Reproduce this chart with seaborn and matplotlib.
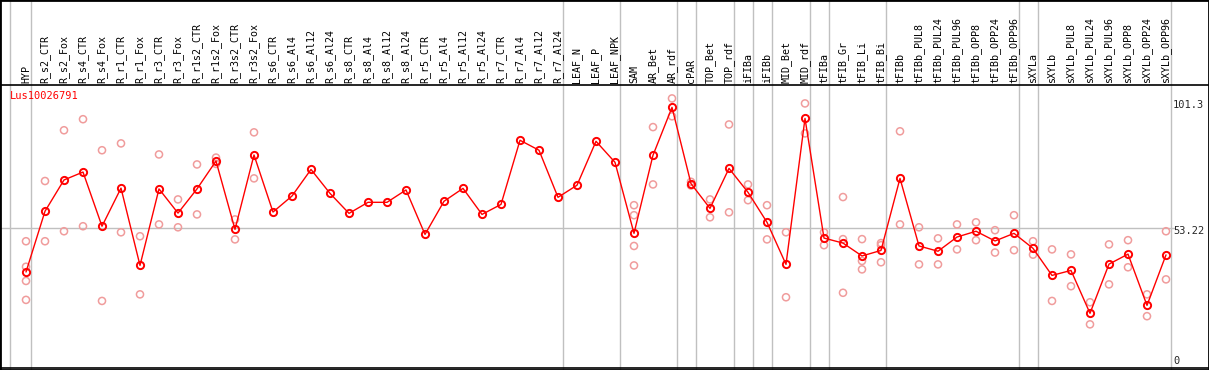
import numpy as np
import pandas as pd
import matplotlib
matplotlib.use("Agg")
import matplotlib.pyplot as plt
import seaborn as sns

# categories along the x axis
categories = ["HYP", "R_s2_CTR", "R_s2_Fox", "R_s4_CTR", "R_s4_Fox", "R_r1_CTR", "R_r1_Fox",
              "R_r3_CTR", "R_r3_Fox", "R_r1s2_CTR", "R_r1s2_Fox", "R_r3s2_CTR", "R_r3s2_Fox",
              "R_s6_CTR", "R_s6_Al4", "R_s6_Al12", "R_s6_Al24", "R_s8_CTR", "R_s8_Al4",
              "R_s8_Al12", "R_s8_Al24", "R_r5_CTR", "R_r5_Al4", "R_r5_Al12", "R_r5_Al24",
              "R_r7_CTR", "R_r7_Al4", "R_r7_Al12", "R_r7_Al24", "LEAF_N", "LEAF_P", "LEAF_NPK",
              "SAM", "AR_Bet", "AR_rdf", "cPAR", "TOP_Bet", "TOP_rdf", "iFIBa", "iFIBb",
              "MID_Bet", "MID_rdf", "tFIBa", "tFIB_Gr", "tFIB_Li", "tFIB_Bi", "tFIBb",
              "tFIBb_PUL8", "tFIBb_PUL24", "tFIBb_PUL96", "tFIBb_OPP8", "tFIBb_OPP24",
              "tFIBb_OPP96", "sXYLa", "sXYLb", "sXYLb_PUL8", "sXYLb_PUL24", "sXYLb_PUL96",
              "sXYLb_OPP8", "sXYLb_OPP24", "sXYLb_OPP96"]

# mean expression per category
mean_values = [36.5, 59.6, 71.5, 74.5, 53.9, 68.4, 39.0, 68.1, 58.9, 68.1, 78.7, 52.7, 81.0,
               59.3, 65.4, 75.5, 66.4, 58.8, 63.0, 63.0, 67.7, 50.8, 63.4, 68.3, 58.4,
               62.2, 86.6, 82.8, 64.9, 69.5, 86.2, 78.2,
               51.2, 80.9, 99.1, 70.1, 60.7, 75.9, 66.8, 55.4, 39.4, 94.9,
               49.4, 47.5, 42.6, 44.7, 72.1, 46.4, 44.4, 49.8, 52.0, 48.3, 51.2,
               45.5, 35.2, 37.1, 20.8, 39.5, 43.3, 23.8, 43.0]

# individual replicates
rep_labels = (["HYP"] * 4 + ["R_s2_CTR"] * 2 + ["R_s2_Fox"] * 2 + ["R_s4_CTR"] * 2
              + ["R_s4_Fox"] * 2 + ["R_r1_CTR"] * 2 + ["R_r1_Fox"] * 2 + ["R_r3_CTR"] * 2
              + ["R_r3_Fox"] * 2 + ["R_r1s2_CTR"] * 2 + ["R_r1s2_Fox"] * 2
              + ["R_r3s2_CTR"] * 2 + ["R_r3s2_Fox"] * 2
              + ["SAM"] * 4 + ["AR_Bet"] * 2 + ["AR_rdf"] * 2 + ["cPAR"] * 2
              + ["TOP_Bet"] * 2 + ["TOP_rdf"] * 2 + ["iFIBa"] * 2 + ["iFIBb"] * 2
              + ["MID_Bet"] * 2 + ["MID_rdf"] * 2 + ["tFIBa"] * 2 + ["tFIB_Gr"] * 3
              + ["tFIB_Li"] * 3 + ["tFIB_Bi"] * 3 + ["tFIBb"] * 2
              + ["tFIBb_PUL8"] * 2 + ["tFIBb_PUL24"] * 2 + ["tFIBb_PUL96"] * 2
              + ["tFIBb_OPP8"] * 2 + ["tFIBb_OPP24"] * 2 + ["tFIBb_OPP96"] * 2
              + ["sXYLa"] * 2 + ["sXYLb"] * 2 + ["sXYLb_PUL8"] * 2 + ["sXYLb_PUL24"] * 2
              + ["sXYLb_PUL96"] * 2 + ["sXYLb_OPP8"] * 2 + ["sXYLb_OPP24"] * 2
              + ["sXYLb_OPP96"] * 2)
rep_values = [48.2, 38.5, 33.1, 25.9, 71.1, 48.2, 90.4, 52.0, 94.6, 53.9,
              82.8, 25.5, 85.4, 51.6, 50.1, 28.0, 81.2, 54.6,
              64.1, 53.5, 77.4, 58.4, 80.0, 77.6,
              56.5, 48.9, 89.6, 72.1,
              61.9, 58.1, 46.4, 39.0, 91.6, 69.8, 102.5, 95.7, 70.8, 69.4,
              64.1, 57.3, 92.6, 59.2, 69.8, 63.8, 61.9, 48.9,
              51.6, 26.9, 100.6, 89.2, 51.6, 46.7, 65.0, 49.0, 28.6,
              49.0, 40.7, 37.5, 47.5, 46.7, 40.2, 90.0, 54.6,
              53.5, 39.4, 49.3, 39.4, 54.6, 45.1,
              55.4, 48.6, 52.4, 43.9, 58.1, 44.8,
              48.2, 43.1, 45.1, 25.5, 43.2, 31.1, 25.0, 16.6,
              47.0, 31.8, 48.6, 38.3, 28.0, 19.7, 52.0, 33.7]

# last category of each group (vertical separators)
group_ends = ["HYP", "R_r7_A124", "LEAF_NPK", "AR_rdf", "cPAR", "TOP_rdf", "iFIBa", "iFIBb",
              "MID_rdf", "tFIBa", "tFIB_Bi", "tFIBb_OPP96", "sXYLa", "sXYLb_OPP96"]
ref_lines = [101.3, 53.22, 0]
gene = "Lus10026791"

pos = {c: i for i, c in enumerate(categories)}
pos["R_r7_A124"] = pos["R_r7_Al24"]

main_df = pd.DataFrame({"x": np.arange(len(categories)), "value": mean_values})
rep_df = pd.DataFrame({"x": [pos[c] for c in rep_labels], "value": rep_values})

sns.set_style("white")
mono = ["DejaVu Sans Mono"]

W, H = 1209, 370
fig = plt.figure(figsize=(W / 100, H / 100), dpi=100)
ax = fig.add_axes([0, 0, 1, 1])

# pixel layout: category i at 26 + 19*i, value v at 368 - 2.63*v
x0, dx = 26, 19
y0, dy = 368, 2.63
ax.set_xlim(-x0 / dx, (W - x0) / dx)
ax.set_ylim((y0 - H) / dy, y0 / dy)
top_val = (y0 - 85) / dy

for c in group_ends:
    ax.axvline(pos[c] + 0.24, color="#c0c0c0", lw=1, zorder=1)
ax.axvline(-0.84, color="#c0c0c0", lw=1, zorder=1)
ax.axhline(ref_lines[1], xmax=1175 / W, color="#c0c0c0", lw=1, zorder=1)
ax.axhline(top_val, color="black", lw=1.2, zorder=3)
ax.axhline(0, color="black", lw=1.2, zorder=3)

sns.scatterplot(data=rep_df, x="x", y="value", ax=ax, marker="o", s=26,
                color="#f09c9c", linewidth=1.1, zorder=4, legend=False)
ax.collections[-1].set_facecolor("none")
ax.collections[-1].set_edgecolor("#f09c9c")

sns.lineplot(data=main_df, x="x", y="value", ax=ax, color="red", lw=1,
             marker="o", markersize=5.2, markerfacecolor="none",
             markeredgecolor="red", markeredgewidth=1.4, zorder=5)

for c in categories:
    ax.text(pos[c], (y0 - 83) / dy, c, rotation=90, ha="center", va="bottom",
            fontsize=7.2, family=mono, color="black")

ax.text(-0.85, (y0 - 91) / dy, gene, ha="left", va="top", fontsize=7.5,
        family=mono, color="red")

xr = (1173 - x0) / dx
ax.text(xr, ref_lines[0] + 0.6, f"{ref_lines[0]:g}", ha="left", va="top", fontsize=7.5, family=mono)
ax.text(xr, ref_lines[1] + 0.8, f"{ref_lines[1]:g}", ha="left", va="top", fontsize=7.5, family=mono)
ax.text(xr, 0.8, f"{ref_lines[2]:g}", ha="left", va="bottom", fontsize=7.5, family=mono)

ax.set_xlabel("")
ax.set_ylabel("")
ax.set_xticks([])
ax.set_yticks([])
for s in ax.spines.values():
    s.set_visible(True)
    s.set_color("black")
    s.set_linewidth(2)

fig.savefig("out.png", dpi=100)
